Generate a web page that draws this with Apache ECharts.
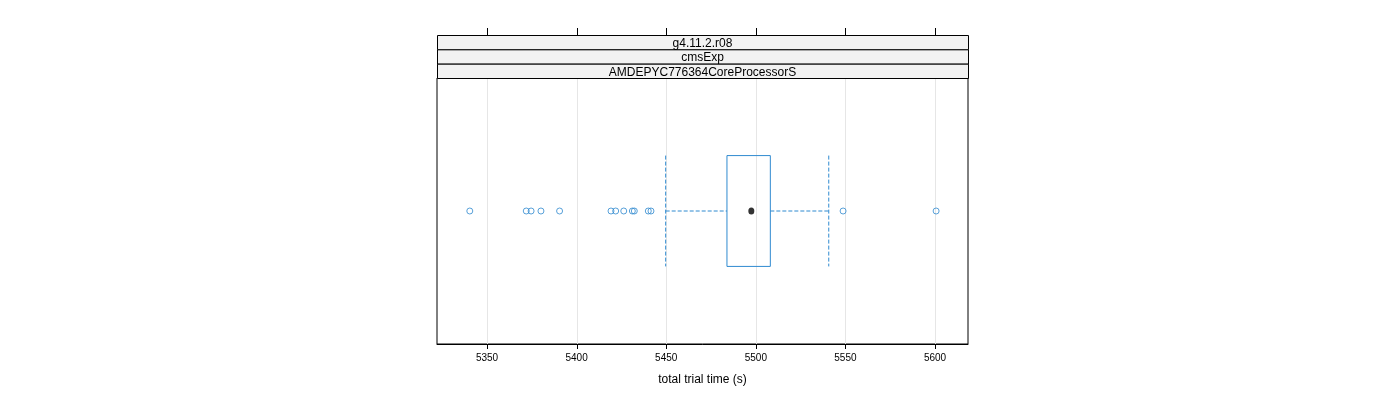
<!DOCTYPE html>
<html><head><meta charset="utf-8">
<script src="https://cdn.jsdelivr.net/npm/echarts@6/dist/echarts.min.js"></script>
<style>html,body{margin:0;padding:0;background:#fff}#c{width:1400px;height:400px}</style>
</head><body><div id="c"></div>
<script>
// ---- data ----
const stripLabels = ["g4.11.2.r08", "cmsExp", "AMDEPYC776364CoreProcessorS"];
const axisTitle = "total trial time (s)";
const tickValues = [5350, 5400, 5450, 5500, 5550, 5600];
// box stats: lower whisker, Q1, median, Q3, upper whisker
const boxStats = [5449.7, 5483.9, 5497.5, 5508.1, 5540.7];
const outliers = [5340.4, 5371.9, 5374.6, 5380.1, 5390.5, 5419.2, 5421.8, 5426.3,
                  5431.1, 5432.2, 5440.0, 5441.5, 5548.7, 5600.6];
const xMin = 5322.1, xMax = 5618.4;

const BLUE = '#2f8ad0';
const FONT = 'Liberation Sans, Arial, sans-serif';
const L = 437, R = 968, PT = 78, PB = 344, ST = 35;
const stripH = (PT - ST) / stripLabels.length;

const chart = echarts.init(document.getElementById('c'), null, {renderer: 'canvas'});

const graphics = [];
stripLabels.forEach((t, i) => {
  graphics.push({
    type: 'rect', shape: {x: L + 0.5, y: ST + i * stripH + 0.5, width: R - L, height: stripH},
    style: {fill: '#f2f2f2', stroke: '#000', lineWidth: 1}, z: 10
  });
  graphics.push({
    type: 'text', x: (L + R) / 2, y: ST + i * stripH + stripH / 2 + 1.5,
    style: {text: t, fill: '#000', font: '12px ' + FONT, align: 'center', verticalAlign: 'middle'}, z: 11
  });
});

const option = {
  animation: false,
  backgroundColor: '#fff',
  graphic: graphics,
  grid: [
    {left: L, right: 1400 - R, top: PT, bottom: 400 - PB, show: true, borderColor: '#000', borderWidth: 1, backgroundColor: 'transparent'}
  ],
  xAxis: [
    {type: 'value', gridIndex: 0, min: xMin, max: xMax, position: 'bottom',
     name: axisTitle, nameLocation: 'middle', nameGap: 30,
     nameTextStyle: {color: '#000', fontSize: 12, fontFamily: FONT},
     axisLine: {show: true, onZero: false, lineStyle: {color: '#000'}},
     axisTick: {show: false},
     axisLabel: {color: '#000', fontSize: 10, fontFamily: FONT, margin: 9, customValues: tickValues,
                 formatter: v => String(v), showMinLabel: true, showMaxLabel: true},
     splitLine: {show: false}
    }
  ],
  yAxis: [
    {type: 'value', gridIndex: 0, min: 0.4, max: 1.6, show: false}
  ],
  series: [
    { // vertical grid lines + outward ticks (top & bottom) at tick values
      type: 'custom', xAxisIndex: 0, yAxisIndex: 0, z: 1, silent: true, clip: false,
      data: tickValues.map(v => [v]),
      renderItem: (params, api) => {
        const x = Math.round(api.coord([api.value(0), 1])[0]) + 0.5;
        const cs = params.coordSys;
        const tick = {stroke: '#000', lineWidth: 1};
        return {type: 'group', children: [
          {type: 'line', shape: {x1: x, y1: cs.y, x2: x, y2: cs.y + cs.height},
           style: {stroke: '#e6e6e6', lineWidth: 1}},
          {type: 'line', shape: {x1: x, y1: cs.y + cs.height, x2: x, y2: cs.y + cs.height + 5}, style: tick},
          {type: 'line', shape: {x1: x, y1: ST - 7, x2: x, y2: ST}, style: tick}
        ]};
      }
    },
    { // box and whiskers
      type: 'custom', xAxisIndex: 0, yAxisIndex: 0, z: 3, silent: true,
      data: [boxStats.concat([1])],
      renderItem: (params, api) => {
        const y = api.value(5);
        const p = i => api.coord([api.value(i), y])[0];
        const yc = api.coord([0, y])[1];
        const yt = api.coord([0, y + 0.25])[1];
        const yb = api.coord([0, y - 0.25])[1];
        const lw = p(0), q1 = p(1), q3 = p(3), uw = p(4);
        const dash = {stroke: BLUE, lineWidth: 1, lineDash: [4, 2], fill: null};
        return {type: 'group', children: [
          {type: 'line', shape: {x1: lw, y1: yc, x2: q1, y2: yc}, style: dash},
          {type: 'line', shape: {x1: q3, y1: yc, x2: uw, y2: yc}, style: dash},
          {type: 'line', shape: {x1: lw, y1: yt, x2: lw, y2: yb}, style: dash},
          {type: 'line', shape: {x1: uw, y1: yt, x2: uw, y2: yb}, style: dash},
          {type: 'rect', shape: {x: q1, y: yt, width: q3 - q1, height: yb - yt},
           style: {stroke: BLUE, lineWidth: 1, fill: null}}
        ]};
      }
    },
    { // outliers
      type: 'scatter', xAxisIndex: 0, yAxisIndex: 0, z: 4, silent: true,
      symbol: 'circle', symbolSize: 6,
      itemStyle: {color: 'rgba(255,255,255,0)', borderColor: BLUE, borderWidth: 1},
      data: outliers.map(v => [v, 1])
    },
    { // median dot
      type: 'scatter', xAxisIndex: 0, yAxisIndex: 0, z: 5, silent: true,
      symbol: 'circle', symbolSize: [6, 7],
      itemStyle: {color: '#000'},
      data: [[boxStats[2], 1]]
    }
  ]
};
chart.setOption(option);
</script></body></html>
